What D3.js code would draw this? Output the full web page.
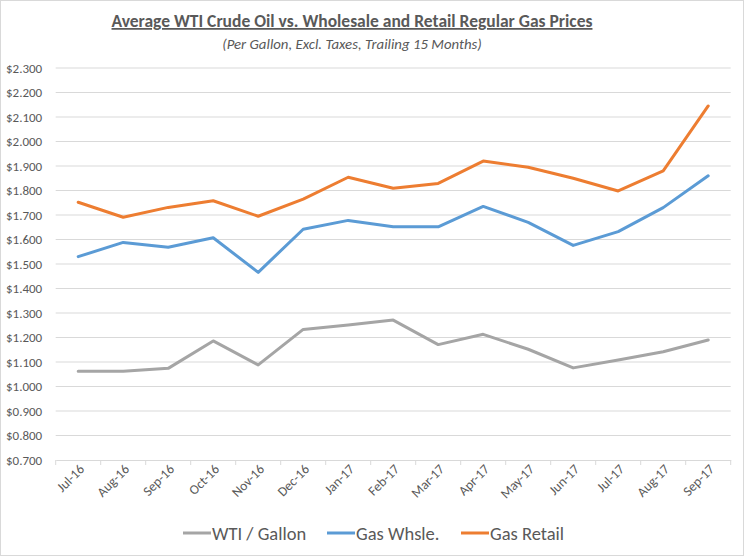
<!DOCTYPE html>
<html><head><meta charset="utf-8">
<script src="https://cdn.jsdelivr.net/npm/d3@7"></script>
<style>body{margin:0;background:#fff}svg{display:block}</style>
</head><body>
<svg id="c" width="745" height="557"></svg>
<script>
const months = ["Jul-16","Aug-16","Sep-16","Oct-16","Nov-16","Dec-16","Jan-17","Feb-17","Mar-17","Apr-17","May-17","Jun-17","Jul-17","Aug-17","Sep-17"];
const wti = [1.062,1.062,1.074,1.186,1.088,1.233,1.251,1.271,1.171,1.213,1.152,1.076,1.108,1.142,1.190];
const whsl = [1.530,1.588,1.568,1.607,1.466,1.642,1.678,1.652,1.652,1.735,1.670,1.576,1.632,1.730,1.860];
const retail = [1.752,1.691,1.731,1.758,1.695,1.765,1.854,1.809,1.829,1.920,1.895,1.850,1.798,1.880,2.145];
const yTicks = [0.7,0.8,0.9,1.0,1.1,1.2,1.3,1.4,1.5,1.6,1.7,1.8,1.9,2.0,2.1,2.2,2.3];
const seriesNames = ["WTI / Gallon","Gas Whsle.","Gas Retail"];
const seriesColors = ["#a5a5a5","#5b9bd5","#ed7d31"];
const series = [wti, whsl, retail];

const svg = d3.select("#c");
const font = "Calibri, Carlito, Lato, 'Liberation Sans', sans-serif";
svg.append("rect").attr("x",0.5).attr("y",0.5).attr("width",743).attr("height",555)
  .attr("fill","#fff").attr("stroke","#d9d9d9");

const pLeft = 55.7, pRight = 730.7, pTop = 68, pBottom = 460;
const x = d3.scaleBand().domain(months).range([pLeft,pRight]);
const y = d3.scaleLinear().domain([0.7,2.3]).range([pBottom,pTop]);

// gridlines
svg.append("g").selectAll("line").data(yTicks.slice(1)).join("line")
  .attr("x1",pLeft).attr("x2",pRight).attr("y1",d=>y(d)).attr("y2",d=>y(d))
  .attr("stroke","#d9d9d9").attr("stroke-width",1);

// y axis labels
const ya = svg.append("g").attr("transform",`translate(${pLeft},0)`)
  .call(d3.axisLeft(y).tickValues(yTicks).tickFormat(d=>"$"+d.toFixed(3)).tickSize(0).tickPadding(13.5));
ya.select(".domain").remove();
ya.selectAll("text").attr("font-family",font).attr("font-size",13).attr("fill","#595959");

// x axis
const xa = svg.append("g").attr("transform",`translate(0,${pBottom})`)
  .call(d3.axisBottom(x).tickSizeInner(0).tickSizeOuter(0));
xa.select(".domain").attr("stroke","#d9d9d9");
xa.selectAll(".tick line").remove();
xa.selectAll("text").attr("font-family",font).attr("font-size",13.5).attr("fill","#595959")
  .attr("text-anchor","end").attr("dy",0).attr("y",0)
  .attr("transform","translate(7,10) rotate(-45)");
// boundary tick marks
const bounds = months.map(m=>x(m)).concat([pRight]);
svg.append("g").selectAll("line").data(bounds).join("line")
  .attr("x1",d=>d).attr("x2",d=>d).attr("y1",pBottom).attr("y2",pBottom+5)
  .attr("stroke","#d9d9d9");

// lines
const line = d3.line().x((d,i)=>x(months[i])+x.bandwidth()/2).y(d=>y(d));
series.forEach((s,k)=>{
  svg.append("path").datum(s).attr("d",line).attr("fill","none")
    .attr("stroke",seriesColors[k]).attr("stroke-width",3).attr("stroke-linejoin","round").attr("stroke-linecap","round");
});

// title
svg.append("text").attr("x",352).attr("y",27).attr("text-anchor","middle")
  .attr("font-family",font).attr("font-weight","bold").attr("font-size",17.5).attr("fill","#595959")
  .attr("text-decoration","underline").text("Average WTI Crude Oil vs. Wholesale and Retail Regular Gas Prices");
svg.append("text").attr("x",352).attr("y",49).attr("text-anchor","middle")
  .attr("font-family",font).attr("font-style","italic").attr("font-size",14.8).attr("fill","#595959")
  .text("(Per Gallon, Excl. Taxes, Trailing 15 Months)");

// legend
const legX = [183, 327, 461];
const lg = svg.append("g");
seriesNames.forEach((n,k)=>{
  lg.append("line").attr("x1",legX[k]).attr("x2",legX[k]+28).attr("y1",533).attr("y2",533)
    .attr("stroke",seriesColors[k]).attr("stroke-width",3);
  lg.append("text").attr("x",legX[k]+29).attr("y",539.5).attr("font-family",font).attr("font-size",18.5)
    .attr("fill","#595959").text(n);
});
</script>
</body></html>
